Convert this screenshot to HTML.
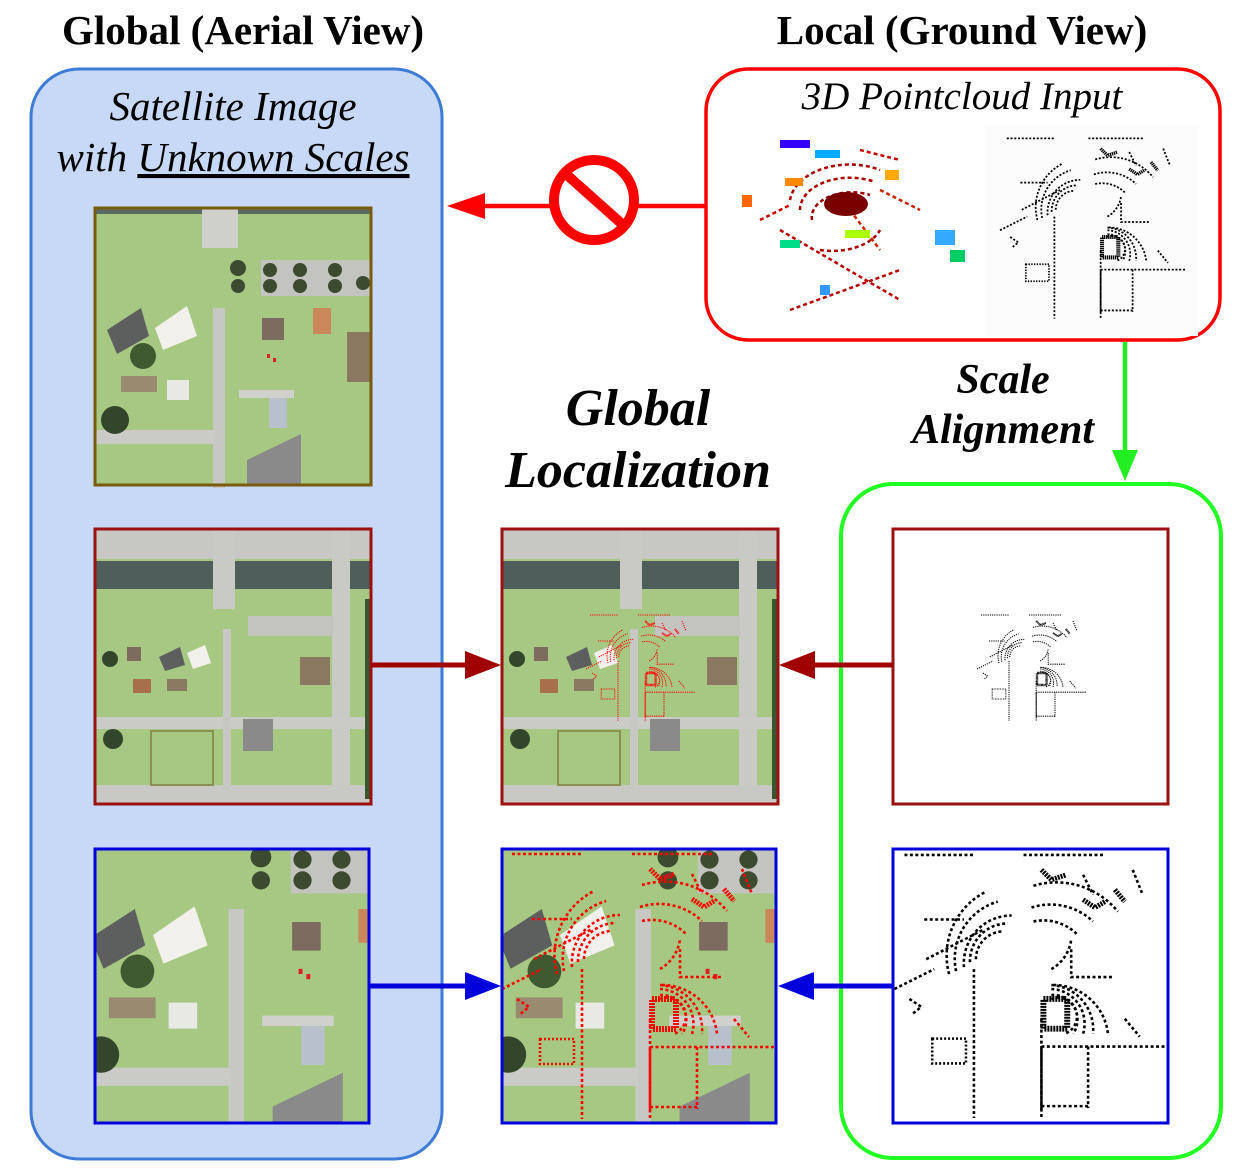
<!DOCTYPE html>
<html><head><meta charset="utf-8"><style>
html,body{margin:0;padding:0;background:#fff}
svg{display:block}
text{font-family:"Liberation Serif",serif}
</style></head><body>
<svg width="1239" height="1172" viewBox="0 0 1239 1172" xmlns="http://www.w3.org/2000/svg">
<defs>
 <g id="satA">
  <rect width="276" height="276" fill="#a6c882"/>
  <rect x="0" y="0" width="276" height="6" fill="#5a6b66"/>
  <rect x="107" y="0" width="36" height="40" fill="#cfcfcc"/>
  <rect x="166" y="52" width="110" height="36" fill="#c3c3c0"/>
  <circle cx="143" cy="60" r="8" fill="#3c4a30"/><circle cx="143" cy="78" r="7" fill="#3c4a30"/>
  <circle cx="175" cy="62" r="7" fill="#3c4a30"/><circle cx="205" cy="62" r="7" fill="#3c4a30"/><circle cx="240" cy="62" r="7" fill="#3c4a30"/>
  <circle cx="175" cy="78" r="7" fill="#3c4a30"/><circle cx="205" cy="78" r="7" fill="#3c4a30"/><circle cx="240" cy="78" r="7" fill="#3c4a30"/><circle cx="268" cy="75" r="7" fill="#3c4a30"/>
  <polygon points="12,122 46,100 54,128 22,146" fill="#5d5f5e"/>
  <polygon points="60,120 92,98 102,128 68,142" fill="#f2f0ea"/>
  <circle cx="48" cy="148" r="13" fill="#3f5a30"/>
  <rect x="26" y="168" width="36" height="16" fill="#9a8a70"/>
  <rect x="72" y="172" width="22" height="20" fill="#e8e8e4"/>
  <rect x="118" y="100" width="12" height="180" fill="#c7c7c4"/>
  <rect x="0" y="222" width="120" height="14" fill="#cacac7"/>
  <rect x="167" y="110" width="22" height="22" fill="#7d6b5f"/>
  <rect x="218" y="100" width="18" height="26" fill="#c9875a"/>
  <rect x="252" y="124" width="24" height="50" fill="#8a7860"/>
  <rect x="174" y="184" width="18" height="36" fill="#b8c0cc"/>
  <rect x="144" y="182" width="55" height="8" fill="#d0d0cd"/>
  <polygon points="152,252 206,226 206,276 152,276" fill="#8a8a8a"/>
  <circle cx="20" cy="212" r="14" fill="#33452a"/>
  <rect x="172" y="146" width="3" height="4" fill="#e02020"/><rect x="178" y="150" width="3" height="4" fill="#e02020"/>
 </g>
 <g id="satB">
  <rect width="276" height="276" fill="#a6c882"/>
  <rect x="0" y="0" width="276" height="30" fill="#c7c7c4"/>
  <rect x="0" y="32" width="276" height="28" fill="#4e5e5a"/>
  <rect x="118" y="0" width="22" height="80" fill="#c9c9c6"/>
  <rect x="237" y="0" width="18" height="276" fill="#c9c9c6"/>
  <rect x="153" y="87" width="85" height="20" fill="#c3c3c0"/>
  <rect x="0" y="188" width="276" height="12" fill="#cacac7"/>
  <rect x="0" y="256" width="276" height="20" fill="#c8c8c5"/>
  <rect x="128" y="100" width="8" height="160" fill="#c7c7c4"/>
  <polygon points="64,128 85,118 90,136 70,142" fill="#5d5f5e"/>
  <polygon points="92,124 110,116 116,134 98,140" fill="#f2f0ea"/>
  <rect x="32" y="118" width="14" height="14" fill="#7d6b5f"/>
  <rect x="38" y="150" width="18" height="14" fill="#a8704a"/>
  <rect x="72" y="150" width="20" height="12" fill="#8a7860"/>
  <rect x="205" y="128" width="30" height="28" fill="#8a7860"/>
  <rect x="56" y="202" width="62" height="54" fill="none" stroke="#8a9050" stroke-width="2"/>
  <rect x="148" y="190" width="30" height="32" fill="#8a8a8a"/>
  <circle cx="15" cy="130" r="8" fill="#33452a"/><circle cx="18" cy="210" r="10" fill="#33452a"/>
  <rect x="270" y="70" width="6" height="200" fill="#3a5530"/>
 </g>
 <g id="pcC" fill="none" stroke-dasharray="3 2.5" stroke-width="2.6">
  <path d="M70,118 A48,48 0 0 1 118,66"/><path d="M76,113 A38,38 0 0 1 114,74"/><path d="M82,110 A28,28 0 0 1 110,82"/>
  <path d="M62,122 A60,60 0 0 1 104,52"/><path d="M55,125 A72,72 0 0 1 92,42"/>
  <path d="M140,72 A48,48 0 0 1 185,86"/><path d="M138,58 A62,62 0 0 1 200,72"/><path d="M140,36 A80,80 0 0 1 225,62"/>
  <path d="M158,136 A45,45 0 0 1 200,185"/><path d="M158,140 A35,35 0 0 1 190,185"/><path d="M158,146 A25,25 0 0 1 180,185"/><path d="M158,150 A16,16 0 0 1 172,185"/>
  <path d="M160,136 A55,55 0 0 1 215,185"/><path d="M158,120 A40,40 0 0 0 178,90"/>
  <path d="M80,120 V270 M148,170 V262 M10,5 H80 M130,5 H210"/>
  <path d="M30,70 H70 M32,110 L90,80 M0,140 L40,120"/>
  <path d="M38,190 H72 V215 H38 Z" stroke-dasharray="2 2"/>
  <path d="M148,198 H272 M148,200 V270 M195,198 V260 M195,258 H148"/>
  <path d="M178,100 V128 H220"/>
  <path d="M15,150 l12,8 l-10,8 M240,20 l10,25 M190,25 l10,20 M232,170 l15,18"/>
  <path d="M150,150 h24 v30 h-24 z" stroke-width="6" stroke-dasharray="2 1"/>
  <path d="M148,20 l10,10 l15,-5 M190,50 l12,8 l10,-6 M222,40 l10,12" stroke-width="5" stroke-dasharray="2 1"/>
 </g>
</defs>

<text x="243" y="44" font-size="41" font-weight="bold" text-anchor="middle">Global (Aerial View)</text>
<text x="962" y="44" font-size="41" font-weight="bold" text-anchor="middle">Local (Ground View)</text>

<rect x="31" y="69" width="411" height="1090" rx="48" fill="#c7d9f6" stroke="#3d7bd6" stroke-width="3"/>
<text x="233" y="120" font-size="41" font-style="italic" text-anchor="middle">Satellite Image</text>
<text x="233" y="171" font-size="41" font-style="italic" text-anchor="middle">with <tspan text-decoration="underline">Unknown Scales</tspan></text>

<rect x="706" y="69" width="514" height="271" rx="42" fill="#fff" stroke="#f00" stroke-width="3.5"/>
<text x="962" y="109" font-size="39" font-style="italic" text-anchor="middle">3D Pointcloud Input</text>
<g fill="none" stroke-width="2.5" stroke-dasharray="4 3">
 <path d="M790,200 A60,40 0 0 1 880,170" stroke="#a00"/>
 <path d="M800,210 A50,32 0 0 1 875,182" stroke="#a00"/>
 <path d="M812,220 A40,25 0 0 1 870,195" stroke="#900"/>
 <path d="M820,250 A50,30 0 0 0 880,230" stroke="#a00"/>
 <path d="M780,230 L900,300" stroke="#b00"/><path d="M790,310 L900,270" stroke="#b00"/>
 <path d="M850,210 L880,250 M880,190 L920,210" stroke="#c20"/>
 <path d="M860,150 L900,160 M760,220 L790,205" stroke="#c00"/>
</g>
<ellipse cx="846" cy="204" rx="22" ry="12" fill="#7a0000"/>
<rect x="785" y="178" width="18" height="8" fill="#f80"/><rect x="885" y="170" width="14" height="10" fill="#fa0"/>
<rect x="780" y="140" width="30" height="8" fill="#30f"/><rect x="815" y="150" width="25" height="8" fill="#0af"/>
<rect x="845" y="230" width="25" height="8" fill="#af0"/><rect x="780" y="240" width="20" height="8" fill="#0d8"/>
<rect x="935" y="230" width="20" height="15" fill="#3af"/><rect x="950" y="250" width="15" height="12" fill="#0c6"/>
<rect x="742" y="195" width="10" height="12" fill="#f60"/><rect x="820" y="285" width="10" height="10" fill="#39f"/>
<rect x="985" y="126" width="213" height="210" fill="#fcfcfc"/>
<g transform="translate(1000,135) scale(0.68)" stroke="#000"><use href="#pcC"/></g>

<line x1="706" y1="206" x2="475" y2="206" stroke="#f00" stroke-width="4.5"/>
<polygon points="447,206 485,193 485,219" fill="#f00"/>
<circle cx="594" cy="200" r="40" fill="#fff" stroke="#f00" stroke-width="10"/>
<line x1="567" y1="175" x2="622" y2="224" stroke="#f00" stroke-width="10"/>

<line x1="1125" y1="342" x2="1125" y2="455" stroke="#2e2" stroke-width="4.5"/>
<polygon points="1125,481 1112,450 1138,450" fill="#2e2"/>
<text x="1003" y="393" font-size="42" font-weight="bold" font-style="italic" text-anchor="middle">Scale</text>
<text x="1003" y="443" font-size="42" font-weight="bold" font-style="italic" text-anchor="middle">Alignment</text>

<text x="638" y="425" font-size="52" font-weight="bold" font-style="italic" text-anchor="middle">Global</text>
<text x="638" y="487" font-size="52" font-weight="bold" font-style="italic" text-anchor="middle">Localization</text>

<rect x="841" y="484" width="380" height="674" rx="52" fill="#fff" stroke="#2f2" stroke-width="4"/>

<g transform="translate(95,208)"><use href="#satA"/></g>
<rect x="95" y="208" width="276" height="277" fill="none" stroke="#7a5a0c" stroke-width="3"/>
<g transform="translate(95,529)"><use href="#satB"/></g>
<rect x="95" y="529" width="276" height="275" fill="none" stroke="#9b1010" stroke-width="3"/>
<svg x="95" y="849" width="274" height="274" viewBox="0 0 274 274"><use href="#satA" transform="translate(-20,-70) scale(1.3)"/></svg>
<rect x="95" y="849" width="274" height="274" fill="none" stroke="#00d" stroke-width="3"/>

<g transform="translate(502,529)"><use href="#satB"/><use href="#pcC" stroke="#f00" transform="translate(84,84) scale(0.4)"/></g>
<rect x="502" y="529" width="276" height="275" fill="none" stroke="#9b1010" stroke-width="3"/>
<svg x="502" y="849" width="274" height="274" viewBox="0 0 274 274"><use href="#satA" transform="translate(-20,-70) scale(1.3)"/><use href="#pcC" stroke="#f00"/></svg>
<rect x="502" y="849" width="274" height="274" fill="none" stroke="#00d" stroke-width="3"/>

<rect x="893" y="529" width="275" height="275" fill="#fff" stroke="#9b1010" stroke-width="3"/>
<g transform="translate(977,613) scale(0.4)" stroke="#000"><use href="#pcC"/></g>
<rect x="893" y="849" width="275" height="274" fill="#fff" stroke="#00d" stroke-width="3"/>
<svg x="894" y="850" width="273" height="272" viewBox="0 0 274 274"><use href="#pcC" stroke="#000"/></svg>

<line x1="372" y1="665" x2="470" y2="665" stroke="#a00000" stroke-width="5"/>
<polygon points="501,665 465,651 465,679" fill="#a00000"/>
<line x1="892" y1="665" x2="808" y2="665" stroke="#a00000" stroke-width="5"/>
<polygon points="779,665 815,651 815,679" fill="#a00000"/>
<line x1="370" y1="986" x2="470" y2="986" stroke="#00d" stroke-width="5"/>
<polygon points="501,986 465,972 465,1000" fill="#00d"/>
<line x1="892" y1="986" x2="808" y2="986" stroke="#00d" stroke-width="5"/>
<polygon points="778,986 814,972 814,1000" fill="#00d"/>
</svg>
</body></html>
